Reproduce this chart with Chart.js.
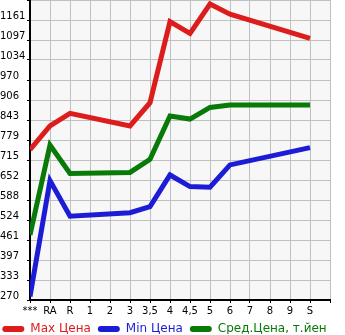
<!DOCTYPE html>
<html>
<head>
<meta charset="utf-8">
<script src="https://cdn.jsdelivr.net/npm/chart.js"></script>
<style>
  html, body { margin: 0; padding: 0; background: #fff; }
  #wrap { width: 345px; height: 335px; }
</style>
</head>
<body>
<div id="wrap"><canvas id="myChart"></canvas></div>
<script>
// categories along the bottom (last slot is an empty grid column)
const categories = ['***', 'RA', 'R', '1', '2', '3', '3,5', '4', '4,5', '5', '6', '7', '8', '9', 'S'];
const yTicks = [270, 333, 397, 461, 524, 588, 652, 715, 779, 843, 906, 970, 1034, 1097, 1161];

// prices, null = no data for that model year
const maxPrice = [749, 824, 864, null, null, 824, 898, 1156, 1119, 1212, 1180, null, null, null, 1103];
const minPrice = [281, 650, 537, null, null, 548, 567, 668, 631, 629, 700, null, null, null, 755];
const avgPrice = [477, 763, 673, null, null, 676, 718, 856, 846, 883, 891, null, null, null, 891];

const toPoints = arr => arr.map((v, i) => ({ x: i, y: v }));

const plotBg = {
  id: 'plotBg',
  afterLayout(chart) {
    // legend sits a bit further left (and up) in the original
    const lg = chart.legend;
    lg.left -= 8;
    lg.right -= 8;
    lg.top -= 1;
    lg.bottom -= 1;
  },
  beforeDraw(chart) {
    const { ctx, chartArea: a } = chart;
    ctx.save();
    ctx.fillStyle = '#f7f7f7';
    ctx.fillRect(a.left, a.top, a.right - a.left, a.bottom - a.top);
    ctx.restore();
  }
};

const RED = 'rgb(221,28,28)';
const BLUE = 'rgb(28,28,214)';
const GREEN = 'rgb(8,122,8)';
const TICK_FONT = { family: 'DejaVu Sans', size: 10 };

const line = (label, data, color) => ({
  label: label,
  data: toPoints(data),
  borderColor: color,
  backgroundColor: color,
  borderWidth: 5,
  pointRadius: 0,
  spanGaps: true,
  tension: 0
});

const ctx = document.getElementById('myChart').getContext('2d');
const myChart = new Chart(ctx, {
  type: 'line',
  data: {
    datasets: [
      line('Max Цена', maxPrice, RED),
      line('Min Цена', minPrice, BLUE),
      line('Сред.Цена, т.йен', avgPrice, GREEN)
    ]
  },
  options: {
    responsive: true,
    maintainAspectRatio: false,
    animation: false,
    layout: { padding: 0 },
    plugins: {
      tooltip: { enabled: false },
      legend: {
        position: 'bottom',
        maxHeight: 18,
        labels: {
          boxWidth: 22,
          boxHeight: 6,
          useBorderRadius: true,
          borderRadius: 3,
          padding: 7,
          font: { family: 'DejaVu Sans', size: 12 },
          generateLabels(chart) {
            return Chart.defaults.plugins.legend.labels.generateLabels(chart).map(l => ({
              ...l, lineWidth: 0, fontColor: l.strokeStyle
            }));
          }
        }
      }
    },
    scales: {
      x: {
        type: 'linear',
        min: 0,
        max: 15,
        afterFit(scale) { scale.height = 17; },
        ticks: {
          stepSize: 1,
          color: '#000',
          font: TICK_FONT,
          padding: 2,
          maxRotation: 0,
          autoSkip: false,
          callback: v => categories[v] || ''
        },
        grid: { color: '#c0c0c0', tickColor: '#000', tickLength: 3 },
        border: { color: '#000', width: 2 }
      },
      y: {
        min: 270,
        max: 1225,
        afterBuildTicks(scale) {
          scale.ticks = yTicks.concat([1225]).map(v => ({ value: v }));
        },
        afterFit(scale) {
          scale.width = 30;
          scale.paddingTop = 0;
          scale.paddingBottom = 0;
        },
        ticks: {
          color: '#000',
          crossAlign: 'far',
          labelOffset: -4,
          font: TICK_FONT,
          callback: v => (yTicks.includes(v) ? String(v) : '')
        },
        grid: { color: '#c0c0c0', tickColor: '#000', tickLength: 3 },
        border: { color: '#000', width: 2 }
      },
      // empty right-hand strip after the last grid column
      yRight: {
        position: 'right',
        afterFit(scale) {
          scale.width = 15;
          scale.paddingTop = 0;
          scale.paddingBottom = 0;
        },
        ticks: { display: false },
        grid: { display: false },
        border: { display: false }
      }
    }
  },
  plugins: [plotBg]
});
</script>
</body>
</html>
